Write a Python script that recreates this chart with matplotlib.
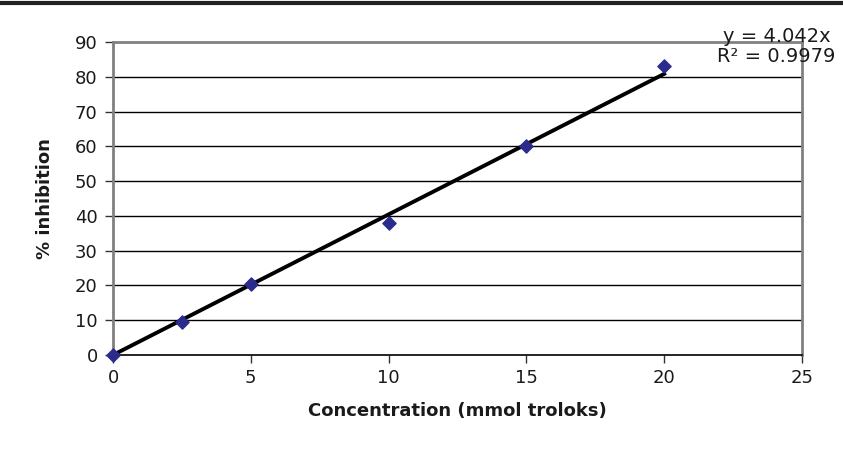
import numpy as np
import matplotlib.pyplot as plt
from matplotlib.lines import Line2D

plt.rcParams['font.family'] = ['DejaVu Sans']

# data
conc = [0, 2.5, 5, 10, 15, 20]
inhib = [0, 9.5, 20.5, 38, 60, 83]
slope = 4.042
r2 = 0.9979
x_ticks = [0, 5, 10, 15, 20, 25]
y_ticks = [0, 10, 20, 30, 40, 50, 60, 70, 80, 90]

fig = plt.figure(figsize=(8.43, 4.59), dpi=100)
ax = fig.add_axes([113 / 843, 1 - 355 / 459, 689 / 843, 313 / 459])

# gridlines
for yv in y_ticks[1:-1]:
    ax.axhline(yv, color='black', lw=1.0, zorder=1)

# trend line through origin
xf = np.array([0, conc[-1]])
ax.plot(xf, slope * xf, color='black', lw=2.8, zorder=2)

ax.scatter(conc, inhib, marker='D', s=45, color='#2b2b8c', zorder=3,
           clip_on=False)

ax.set_xlim(0, 25)
ax.set_ylim(0, 90)
ax.set_xticks(x_ticks)
ax.set_yticks(y_ticks)
ax.tick_params(labelsize=13, length=6, width=1, color='#333333',
               labelcolor='#1a1a1a')
ax.tick_params(axis='x', pad=4)
ax.tick_params(axis='y', pad=5)

for s in ['top', 'right', 'left']:
    ax.spines[s].set_color('#808080')
    ax.spines[s].set_linewidth(2)
ax.spines['bottom'].set_color('black')
ax.spines['bottom'].set_linewidth(1.2)

ax.set_xlabel('Concentration (mmol troloks)', fontsize=13, fontweight='bold',
              labelpad=11, color='#1a1a1a')
ax.set_ylabel('% inhibition', fontsize=13, fontweight='bold', labelpad=15,
              color='#1a1a1a')

# trendline equation
fig.text(0.985, 1 - 36 / 459, f'y = {slope}x', fontsize=14, ha='right',
         va='center', color='#1a1a1a')
fig.text(0.991, 1 - 57 / 459, f'R² = {r2}', fontsize=14, ha='right',
         va='center', color='#1a1a1a')

# top rule
fig.add_artist(Line2D([0, 1], [1 - 3 / 459, 1 - 3 / 459], color='#222222',
                      lw=3, transform=fig.transFigure))

fig.savefig('out.png', dpi=100)
